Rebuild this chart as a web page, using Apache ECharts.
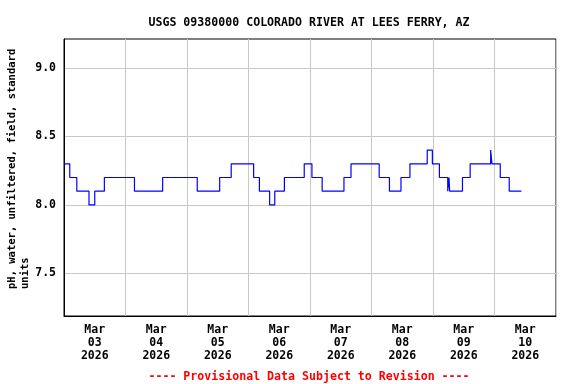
<!DOCTYPE html>
<html>
<head>
<meta charset="utf-8">
<script src="https://cdn.jsdelivr.net/npm/echarts@6/dist/echarts.min.js"></script>
<style>html,body{margin:0;padding:0;background:#fff}#c{width:576px;height:384px}</style>
</head>
<body>
<div id="c"></div>
<script>
const titleText = 'USGS 09380000 COLORADO RIVER AT LEES FERRY, AZ';
const yName = 'pH, water, unfiltered, field, standard\nunits';
const footerText = '---- Provisional Data Subject to Revision ----';
const dayLabels = ['Mar\n03\n2026','Mar\n04\n2026','Mar\n05\n2026','Mar\n06\n2026','Mar\n07\n2026','Mar\n08\n2026','Mar\n09\n2026','Mar\n10\n2026'];
const yTicks = [7.5, 8.0, 8.5, 9.0];
const times = [
  '2026-03-03 00:00','2026-03-03 02:15','2026-03-03 05:00','2026-03-03 09:45','2026-03-03 12:00','2026-03-03 15:45',
  '2026-03-04 03:30','2026-03-04 14:30',
  '2026-03-05 04:00','2026-03-05 12:45','2026-03-05 17:15',
  '2026-03-06 02:00','2026-03-06 04:15','2026-03-06 08:15','2026-03-06 10:15','2026-03-06 14:00','2026-03-06 21:45',
  '2026-03-07 00:45','2026-03-07 04:45','2026-03-07 13:15','2026-03-07 16:00',
  '2026-03-08 03:00','2026-03-08 07:00','2026-03-08 11:30','2026-03-08 15:00','2026-03-08 21:45','2026-03-08 23:45',
  '2026-03-09 02:30','2026-03-09 05:45','2026-03-09 06:15','2026-03-09 06:30','2026-03-09 11:30','2026-03-09 14:30','2026-03-09 22:30','2026-03-09 23:00',
  '2026-03-10 02:15','2026-03-10 05:45','2026-03-10 10:30'
];
const values = [
  8.3,8.2,8.1,8.0,8.1,8.2,
  8.1,8.2,
  8.1,8.2,8.3,
  8.2,8.1,8.0,8.1,8.2,8.3,
  8.2,8.1,8.2,8.3,
  8.2,8.1,8.2,8.3,8.4,8.3,
  8.2,8.1,8.2,8.1,8.2,8.3,8.4,8.3,
  8.2,8.1,8.1
];
const font = 'DejaVu Sans Mono';
const chart = echarts.init(document.getElementById('c'), null, {renderer:'canvas'});
const DAY = 24*3600*1000;
chart.setOption({
  animation: false,
  backgroundColor: '#fff',
  title: [
    {text: titleText, left: 304, top: 12, textAlign: 'center',
     textStyle: {fontFamily: font, fontSize: 11.6, fontWeight: 'bold', color: '#000'}},
    {text: footerText, left: 304, top: 366, textAlign: 'center',
     textStyle: {fontFamily: font, fontSize: 11.6, fontWeight: 'bold', color: '#ff0000'}}
  ],
  graphic: [{
    type: 'text', x: 18.5, y: 289, rotation: Math.PI/2,
    style: {text: yName, fontFamily: font, fontSize: 10.5, fontWeight: 'bold', fill: '#000',
            textAlign: 'left', textVerticalAlign: 'middle', lineHeight: 13}
  }],
  grid: {left: 64, right: 20, top: 39, bottom: 68, show: true, borderColor: '#000', borderWidth: 1, containLabel: false},
  xAxis: [
    {type: 'time', min: '2026-03-03 00:00', max: '2026-03-11 00:00', minInterval: DAY, maxInterval: DAY,
     axisLine: {show: true, lineStyle: {color: '#000', width: 1}}, axisTick: {show: false},
     axisLabel: {show: false}, splitLine: {show: true, lineStyle: {color: '#c8c8c8', width: 1}}},
    {type: 'category', data: dayLabels, position: 'bottom', boundaryGap: true,
     axisLine: {show: false}, axisTick: {show: false}, splitLine: {show: false},
     axisLabel: {show: true, interval: 0, margin: 8, fontFamily: font, fontSize: 11.5, fontWeight: 'bold', color: '#000', lineHeight: 13}}
  ],
  yAxis: {
    type: 'value', min: 7.19, max: 9.21,
    axisLine: {show: true, lineStyle: {color: '#000', width: 1}},
    axisTick: {show: false, customValues: yTicks},
    axisLabel: {customValues: yTicks, margin: 8, fontFamily: font, fontSize: 11.5, fontWeight: 'bold', color: '#000',
                formatter: v => Number(v).toFixed(1)},
    splitLine: {show: true, lineStyle: {color: '#c8c8c8', width: 1}}
  },
  series: [{
    type: 'line', xAxisIndex: 0, step: 'end', showSymbol: false, symbol: 'none',
    data: times.map((t, i) => [t, values[i]]),
    lineStyle: {color: '#0000ff', width: 1.2}
  }]
});
</script>
</body>
</html>
